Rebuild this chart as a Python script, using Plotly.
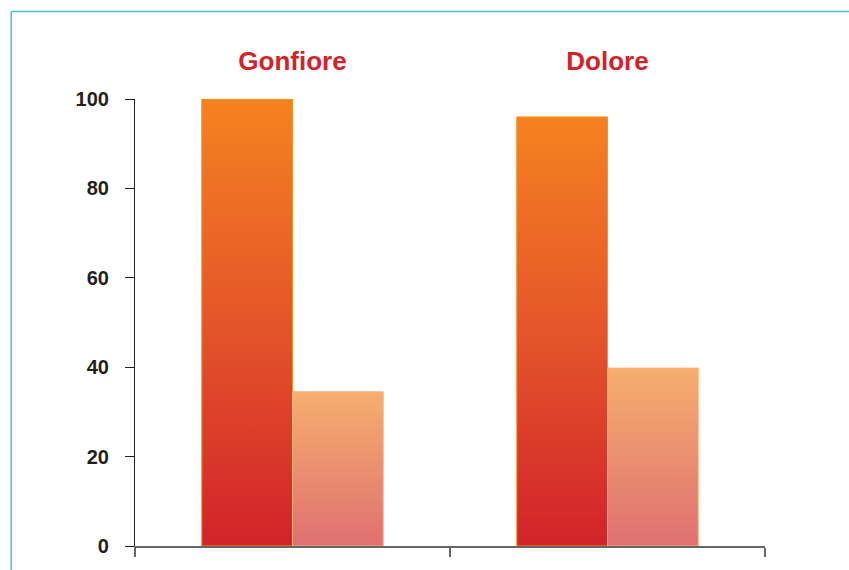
import plotly.graph_objects as go

# ---- data ----
categories = ["Gonfiore", "Dolore"]
series_names = ["Serie 1", "Serie 2"]
values_dark = [100, 96]
values_light = [34.5, 39.8]
y_ticks = [0, 20, 40, 60, 80, 100]

# ---- styles ----
FONT = "Liberation Sans, Arial, Helvetica, sans-serif"
RED = "#d2232a"
dark_scale = [[0, "#d2232a"], [0.5, "#e4552a"], [1, "#f58220"]]
light_scale = [[0, "#df7072"], [1, "#f6ae6e"]]
dark_line = "#f7941d"
light_line = "#f9b57c"

bargap = 0.424
bw = (1 - bargap) / 2

fig = go.Figure()

series = [
    (series_names[0], values_dark, dark_scale, dark_line, 0),
    (series_names[1], values_light, light_scale, light_line, 1),
]
for name, vals, scale, lc, s in series:
    for i, (cat, v) in enumerate(zip(categories, vals)):
        x0 = i - 0.5 + bargap / 2 + s * bw
        x1 = x0 + bw
        fig.add_trace(go.Scatter(
            x=[x0, x1, x1, x0, x0],
            y=[0, 0, v, v, 0],
            mode="lines",
            fill="toself",
            fillgradient=dict(type="vertical", colorscale=scale),
            line=dict(color=lc, width=1),
            name=name,
            hovertemplate=f"{cat}<br>{name}: {v}<extra></extra>",
            hoveron="fills",
            showlegend=False,
        ))

# invisible trace to bind the top category axis
fig.add_trace(go.Scatter(x=[0, 1], y=[None, None], xaxis="x2", yaxis="y",
                         mode="markers", showlegend=False, hoverinfo="skip"))

fig.update_layout(
    width=849, height=570,
    margin=dict(l=135, r=84, t=99, b=24),
    paper_bgcolor="white",
    plot_bgcolor="white",
    showlegend=False,
    font=dict(family=FONT, color="#231f20"),
    xaxis=dict(
        range=[-0.5, 1.5],
        tickvals=[-0.5, 0.5, 1.5],
        showticklabels=False,
        ticks="outside", ticklen=9, tickwidth=1.5, tickcolor="#666",
        showline=True, linecolor="#666", linewidth=1.5,
        showgrid=False, zeroline=False,
    ),
    xaxis2=dict(
        overlaying="x", side="top",
        range=[-0.5, 1.5],
        tickvals=[0, 1], ticktext=categories,
        tickfont=dict(family=FONT, size=26, color=RED, weight="bold"),
        ticks="", showline=False, showgrid=False, zeroline=False,
        ticklabelstandoff=23,
    ),
    yaxis=dict(
        range=[0, 100],
        tickvals=y_ticks,
        ticks="outside", ticklen=9, tickwidth=1.2, tickcolor="#231f20",
        showline=True, linecolor="#231f20", linewidth=1.2,
        showgrid=False, zeroline=False,
        tickfont=dict(family=FONT, size=20, color="#231f20", weight="bold"),
        ticklabelstandoff=12,
    ),
    shapes=[
        dict(type="line", xref="paper", yref="paper",
             x0=-0.1965, x1=1.2, y0=1.1957, y1=1.1957,
             line=dict(color="#3ec3dc", width=1.5)),
        dict(type="line", xref="paper", yref="paper",
             x0=-0.1965, x1=-0.1965, y0=1.1957, y1=-0.2,
             line=dict(color="#3ec3dc", width=1.5)),
    ],
)

fig.write_html("out.html")
